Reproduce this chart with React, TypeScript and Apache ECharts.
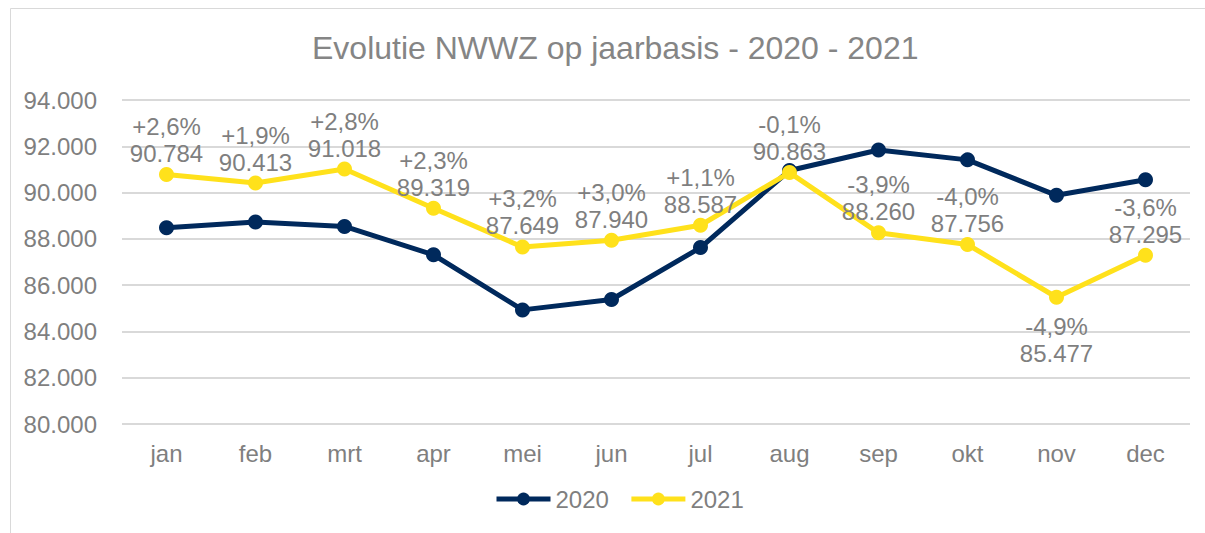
import React, { useEffect, useRef } from "react";
import * as echarts from "echarts";

const months = ["jan", "feb", "mrt", "apr", "mei", "jun", "jul", "aug", "sep", "okt", "nov", "dec"];
const values2020 = [88483, 88727, 88539, 87311, 84931, 85379, 87623, 90954, 91842, 91413, 89881, 90555];
const values2021 = [90784, 90413, 91018, 89319, 87649, 87940, 88587, 90863, 88260, 87756, 85477, 87295];
const pctLabels = ["+2,6%", "+1,9%", "+2,8%", "+2,3%", "+3,2%", "+3,0%", "+1,1%", "-0,1%", "-3,9%", "-4,0%", "-4,9%", "-3,6%"];
const yTicks = { min: 80000, max: 94000, interval: 2000 };
const labelBelow = ["nov"];

const fmt = (v: number) => {
  const s = Math.round(v).toString();
  return s.replace(/\B(?=(\d{3})+(?!\d))/g, ".");
};

const FONT = "'Liberation Sans', Arial, sans-serif";
const GRAY = "#7f7f7f";

export default function App() {
  const ref = useRef<HTMLDivElement>(null);
  useEffect(() => {
    if (!ref.current) return;
    const chart = echarts.init(ref.current, null, { renderer: "svg" });
    chart.setOption({
      animation: false,
      backgroundColor: "#ffffff",
      textStyle: { fontFamily: FONT },
      title: {
        text: "Evolutie NWWZ op jaarbasis - 2020 - 2021",
        left: 307,
        top: 27,
        textStyle: { fontFamily: FONT, fontSize: 32, fontWeight: "normal", color: "#858585" },
      },
      graphic: [
        {
          type: "rect",
          shape: { x: 10.5, y: 8.5, width: 1220, height: 560 },
          style: { fill: "none", stroke: "#d9d9d9", lineWidth: 1 },
          silent: true,
        },
      ],
      legend: {
        bottom: 17,
        left: 489,
        itemWidth: 54,
        itemHeight: 16,
        itemGap: 20,
        lineStyle: { width: 5 },
        textStyle: { fontFamily: FONT, fontSize: 24, color: GRAY },
        data: ["2020", "2021"],
      },
      grid: { left: 122, right: 15, top: 100, bottom: 109 },
      xAxis: {
        type: "category",
        data: months,
        boundaryGap: true,
        axisLine: { show: false },
        axisTick: { show: false },
        axisLabel: { fontFamily: FONT, fontSize: 24, color: GRAY, margin: 17 },
      },
      yAxis: {
        type: "value",
        min: yTicks.min,
        max: yTicks.max,
        interval: yTicks.interval,
        axisLine: { show: false },
        axisTick: { show: false },
        splitLine: { lineStyle: { color: "#d9d9d9", width: 2 } },
        axisLabel: { fontFamily: FONT, fontSize: 24, color: GRAY, margin: 25, formatter: (v: number) => fmt(v) },
      },
      series: [
        {
          name: "2020",
          type: "line",
          data: values2020,
          symbol: "circle",
          symbolSize: 15,
          lineStyle: { width: 5, color: "#00295c" },
          itemStyle: { color: "#00295c" },
          z: 2,
        },
        {
          name: "2021",
          type: "line",
          data: values2021.map((v, i) => {
            const below = labelBelow.includes(months[i]);
            return {
              value: v,
              label: { position: below ? "bottom" : "top", distance: below ? 8 : 0 },
            };
          }),
          symbol: "circle",
          symbolSize: 15,
          lineStyle: { width: 5, color: "#ffe11b" },
          itemStyle: { color: "#ffe11b" },
          z: 3,
          label: {
            show: true,
            position: "top",
            distance: 0,
            fontFamily: FONT,
            fontSize: 24,
            lineHeight: 27,
            color: GRAY,
            formatter: (p: any) => pctLabels[p.dataIndex] + "\n" + fmt(p.value),
          },
        },
      ],
    });
    return () => chart.dispose();
  }, []);
  return <div ref={ref} style={{ position: "fixed", left: 0, top: 0, width: 1205, height: 533 }} />;
}
